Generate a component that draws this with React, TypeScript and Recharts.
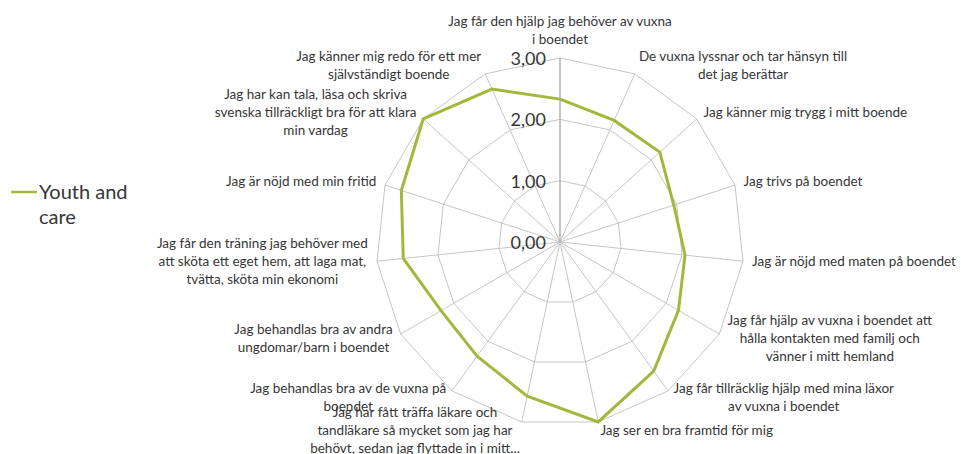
import React from "react";
import {
  RadarChart,
  Radar,
  PolarGrid,
  PolarAngleAxis,
  PolarRadiusAxis,
  Legend,
} from "recharts";

// categories, clockwise from the top (line breaks as in the picture)
const categories: string[] = [
  "Jag får den hjälp jag behöver av vuxna\ni boendet",
  "De vuxna lyssnar och tar hänsyn till\ndet jag berättar",
  "Jag känner mig trygg i mitt boende",
  "Jag trivs på boendet",
  "Jag är nöjd med maten på boendet",
  "Jag får hjälp av vuxna i boendet att\nhålla kontakten med familj och\nvänner i mitt hemland",
  "Jag får tillräcklig hjälp med mina läxor\nav vuxna i boendet",
  "Jag ser en bra framtid för mig",
  "Jag har fått träffa läkare och\ntandläkare så mycket som jag har\nbehövt, sedan jag flyttade in i mitt...",
  "Jag behandlas bra av de vuxna på\nboendet",
  "Jag behandlas bra av andra\nungdomar/barn i boendet",
  "Jag får den träning jag behöver med\natt sköta ett eget hem, att laga mat,\ntvätta, sköta min ekonomi",
  "Jag är nöjd med min fritid",
  "Jag har kan tala, läsa och skriva\nsvenska tillräckligt bra för att klara\nmin vardag",
  "Jag känner mig redo för ett mer\nsjälvständigt boende",
];

const youthAndCare: number[] = [
  2.33, 2.17, 2.19, 1.95, 2.05, 2.23, 2.6, 3.0, 2.57, 2.3, 2.24, 2.57, 2.72,
  3.0, 2.73,
];

const radiusTicks: number[] = [0, 1, 2, 3];
const seriesName = "Youth and care";

const data = categories.map((c, i) => ({ category: c, value: youthAndCare[i] }));

const CX = 560;
const CY = 242;
const R = 184;
const FONT = "Lato, 'Open Sans', sans-serif";
const LABEL_SIZE = 13.5;
const LINE_H = 18;
const TEXT = "#363636";
const OLIVE = "#a2b83c";

let ctx: CanvasRenderingContext2D | null = null;
const measure = (s: string) => {
  if (!ctx) ctx = document.createElement("canvas").getContext("2d");
  if (!ctx) return s.length * 6;
  ctx.font = `${LABEL_SIZE}px ${FONT}`;
  return ctx.measureText(s).width;
};

const AngleTick = (props: any) => {
  const { x, y, payload } = props;
  const dx = x - CX;
  const dy = y - CY;
  const len = Math.sqrt(dx * dx + dy * dy) || 1;
  const ux = dx / len;
  const uy = dy / len;
  const vx = CX + R * ux;
  const vy = CY + R * uy;
  const lines = String(payload.value).split("\n");
  const blockW = Math.max(...lines.map(measure));
  const blockH = lines.length * LINE_H;
  let centerX: number;
  let topY: number;
  if (Math.abs(ux) < 0.01) {
    centerX = vx;
    topY = uy < 0 ? vy - 9 - blockH : vy + 9;
  } else {
    const gap = 9 * Math.abs(ux);
    centerX = ux > 0 ? vx + gap + blockW / 2 : vx - gap - blockW / 2;
    topY = vy + 9 * uy - blockH / 2;
  }
  return (
    <text
      textAnchor="middle"
      fontFamily={FONT}
      fontSize={LABEL_SIZE}
      fill={TEXT}
    >
      {lines.map((l, i) => (
        <tspan
          key={i}
          x={centerX}
          y={topY + LINE_H * (i + 0.5) - 1}
          dominantBaseline="central"
        >
          {l}
        </tspan>
      ))}
    </text>
  );
};

const RadiusTick = (props: any) => {
  const { x, y, payload } = props;
  return (
    <text
      x={x - 14}
      y={y}
      textAnchor="end"
      dominantBaseline="central"
      fontFamily={FONT}
      fontSize={18}
      fill={TEXT}
    >
      {Number(payload.value).toFixed(2).replace(".", ",")}
    </text>
  );
};

const LegendBox = () => (
  <div style={{ display: "flex", alignItems: "flex-start", fontFamily: FONT }}>
    <svg width={28} height={24} style={{ flex: "none" }}>
      <line x1={0} y1={13} x2={26} y2={13} stroke={OLIVE} strokeWidth={2.5} />
    </svg>
    <div style={{ fontSize: 20, lineHeight: "25px", color: TEXT, width: 100 }}>
      {seriesName}
    </div>
  </div>
);

export default function App() {
  return (
    <div style={{ position: "absolute", left: 0, top: 0, background: "#fff" }}>
      <RadarChart
        width={961}
        height={454}
        data={data}
        cx={CX}
        cy={CY}
        outerRadius={R}
        startAngle={90}
        endAngle={-270}
        margin={{ top: 0, right: 0, bottom: 0, left: 0 }}
      >
        <PolarGrid gridType="polygon" stroke="#c6c6c6" strokeWidth={1} />
        <PolarAngleAxis
          dataKey="category"
          tick={<AngleTick />}
          tickLine={false}
          axisLine={false}
        />
        <PolarRadiusAxis
          angle={90}
          domain={[0, 3]}
          tickCount={radiusTicks.length}
          ticks={radiusTicks as any}
          tick={<RadiusTick />}
          tickLine={false}
          axisLine={{ stroke: "#a6a6a6" }}
        />
        <Radar
          name={seriesName}
          dataKey="value"
          stroke={OLIVE}
          strokeWidth={3}
          fill="none"
          fillOpacity={0}
          dot={false}
          isAnimationActive={false}
        />
        <Legend
          content={<LegendBox />}
          wrapperStyle={{ position: "absolute", left: 11, top: 179, width: 140 }}
        />
      </RadarChart>
    </div>
  );
}
